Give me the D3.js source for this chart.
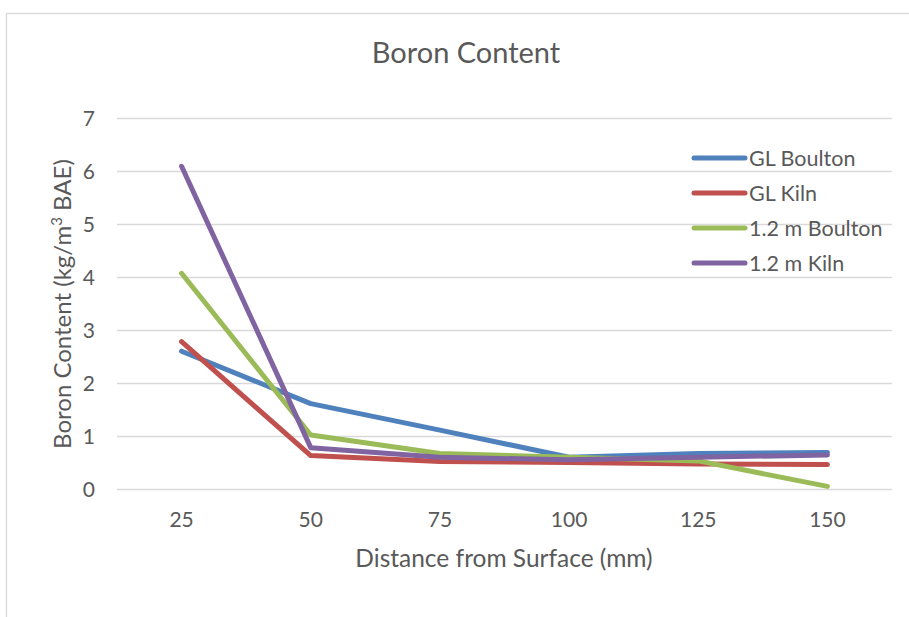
<!DOCTYPE html>
<html>
<head>
<meta charset="utf-8">
<script src="https://cdn.jsdelivr.net/npm/d3@7"></script>
<style>
  html, body { margin: 0; padding: 0; background: #fff; }
  svg { display: block; font-family: Lato, "Open Sans", sans-serif; }
</style>
</head>
<body>
<svg id="chart" width="909" height="617"></svg>
<script>
// Sample depths (mm) and boron content per series (kg/m³ BAE)
const depths = [25, 50, 75, 100, 125, 150];
const glBoulton   = [2.60, 1.61, 1.11, 0.60, 0.67, 0.69];
const glKiln      = [2.78, 0.63, 0.52, 0.50, 0.47, 0.46];
const m12Boulton  = [4.07, 1.02, 0.67, 0.60, 0.53, 0.05];
const m12Kiln     = [6.09, 0.78, 0.60, 0.55, 0.60, 0.64];
const seriesNames = ["GL Boulton", "GL Kiln", "1.2 m Boulton", "1.2 m Kiln"];
const seriesColors = ["#4F81BD", "#C0504D", "#9BBB59", "#8064A2"];
const yTicks = [0, 1, 2, 3, 4, 5, 6, 7];

const series = [glBoulton, glKiln, m12Boulton, m12Kiln].map((vals, i) => ({
  name: seriesNames[i],
  color: seriesColors[i],
  values: vals.map((v, j) => ({ x: depths[j], y: v }))
}));

const svg = d3.select("#chart");
const textColor = "#595959";
const gridColor = "#d9d9d9";

// Chart frame
svg.append("rect")
  .attr("x", 6.5).attr("y", 13.5)
  .attr("width", 940).attr("height", 640)
  .attr("fill", "none").attr("stroke", gridColor).attr("stroke-width", 1.3);

const plot = { left: 117, right: 892, top: 118, bottom: 489 };

const x = d3.scaleBand().domain(depths).range([plot.left, plot.right]);
const y = d3.scaleLinear().domain([0, 7]).range([plot.bottom, plot.top]);

// Horizontal gridlines
const yAxis = d3.axisLeft(y).tickValues(yTicks).tickSize(-(plot.right - plot.left)).tickPadding(22).tickFormat(d3.format("d"));
const gy = svg.append("g").attr("transform", `translate(${plot.left},0)`).call(yAxis);
gy.select(".domain").remove();
gy.selectAll(".tick line").attr("stroke", gridColor).attr("stroke-width", 1.5);
gy.selectAll(".tick text")
  .attr("fill", textColor).attr("font-size", 21).attr("font-family", "Lato, sans-serif")
  .attr("dy", "0.35em");

// Category axis labels
const xAxis = d3.axisBottom(x).tickSize(0).tickPadding(23);
const gx = svg.append("g").attr("transform", `translate(0,${plot.bottom})`).call(xAxis);
gx.select(".domain").remove();
gx.selectAll(".tick text")
  .attr("fill", textColor).attr("font-size", 21).attr("font-family", "Lato, sans-serif");

// Series lines
const xc = d => x(d) + x.bandwidth() / 2;
const line = d3.line().x(d => xc(d.x)).y(d => y(d.y));
svg.append("g").selectAll("path")
  .data(series)
  .join("path")
  .attr("d", d => line(d.values))
  .attr("fill", "none")
  .attr("stroke", d => d.color)
  .attr("stroke-width", 5)
  .attr("stroke-linejoin", "round")
  .attr("stroke-linecap", "round");

// Title
svg.append("text")
  .attr("x", 466).attr("y", 63)
  .attr("text-anchor", "middle")
  .attr("fill", textColor).attr("font-size", 29)
  .text("Boron Content");

// Axis titles
svg.append("text")
  .attr("x", 504).attr("y", 567)
  .attr("text-anchor", "middle")
  .attr("fill", textColor).attr("font-size", 24.5)
  .text("Distance from Surface (mm)");

const yt = svg.append("text")
  .attr("transform", "translate(71,304) rotate(-90)")
  .attr("text-anchor", "middle")
  .attr("fill", textColor).attr("font-size", 24);
yt.append("tspan").text("Boron Content (kg/m");
yt.append("tspan").attr("dy", -9).attr("font-size", 15).text("3");
yt.append("tspan").attr("dy", 9).text(" BAE)");

// Legend
const legend = svg.append("g").selectAll("g")
  .data(series)
  .join("g")
  .attr("transform", (d, i) => `translate(692,${158 + i * 35})`);
legend.append("line")
  .attr("x1", 2).attr("x2", 53)
  .attr("stroke", d => d.color).attr("stroke-width", 5).attr("stroke-linecap", "round");
legend.append("text")
  .attr("x", 57).attr("dy", "0.35em")
  .attr("fill", textColor).attr("font-size", 21.5)
  .text(d => d.name);
</script>
</body>
</html>
